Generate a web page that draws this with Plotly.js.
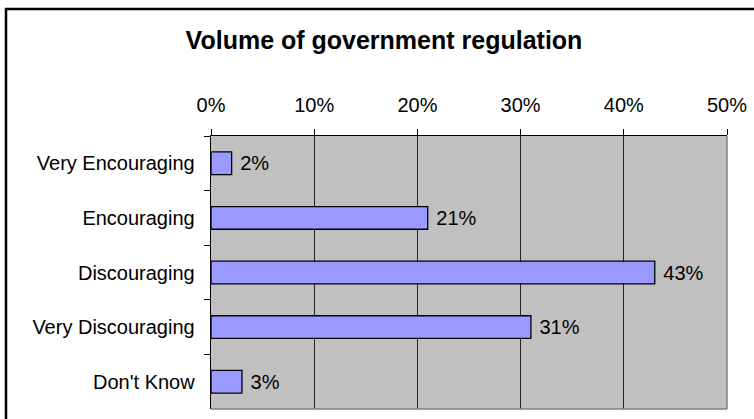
<!DOCTYPE html>
<html>
<head>
<meta charset="utf-8">
<script src="https://cdn.plot.ly/plotly-3.0.1.min.js"></script>
<style>
html,body{margin:0;padding:0;background:#fff;overflow:hidden;}
#chart{width:754px;height:419px;}
</style>
</head>
<body>
<div id="chart"></div>
<script>
const categories = ["Very Encouraging", "Encouraging", "Discouraging", "Very Discouraging", "Don't Know"];
const values = [2, 21, 43, 31, 3];
const valueLabels = ["2%", "21%", "43%", "31%", "3%"];
const xTickVals = [0, 10, 20, 30, 40, 50];
const xTickText = ["0%", "10%", "20%", "30%", "40%", "50%"];
const chartTitle = "Volume of government regulation";

const FONT = "Liberation Sans, Arial, sans-serif";

const trace = {
  type: "bar",
  orientation: "h",
  y: categories,
  x: values,
  text: valueLabels,
  texttemplate: "\u00A0%{text}",
  textposition: "outside",
  cliponaxis: false,
  textfont: {family: FONT, size: 20, color: "#000"},
  marker: {color: "#9999FF", line: {color: "#000", width: 1.3}},
  hoverinfo: "none"
};

const layout = {
  width: 754,
  height: 419,
  margin: {l: 211, r: 27, t: 136, b: 10},
  paper_bgcolor: "#fff",
  plot_bgcolor: "#C0C0C0",
  showlegend: false,
  bargap: 0.585,
  title: {
    text: "<b>" + chartTitle + "</b>",
    font: {family: FONT, size: 25, color: "#000"},
    x: (384 - 211) / 516, xref: "paper", xanchor: "center",
    y: 1 - 40/419, yref: "container", yanchor: "middle"
  },
  xaxis: {
    side: "top",
    range: [0, 50],
    tickvals: xTickVals,
    ticktext: xTickText,
    ticks: "outside",
    ticklen: 6,
    tickcolor: "#000",
    tickwidth: 1,
    ticklabelstandoff: 9,
    showgrid: true,
    gridcolor: "#222",
    gridwidth: 1,
    zeroline: false,
    showline: true,
    linecolor: "#000",
    linewidth: 1.3,
    tickfont: {family: FONT, size: 20, color: "#000"},
    fixedrange: true
  },
  yaxis: {
    type: "category",
    autorange: "reversed",
    ticks: "outside",
    tickson: "boundaries",
    ticklen: 6,
    tickcolor: "#000",
    tickwidth: 1,
    ticklabelstandoff: 11,
    showgrid: false,
    zeroline: false,
    showline: true,
    linecolor: "#000",
    linewidth: 1.3,
    tickfont: {family: FONT, size: 20, color: "#000"},
    fixedrange: true
  },
  shapes: [
    {type: "line", xref: "paper", yref: "paper", x0: 1, x1: 1, y0: 0, y1: 1,
     line: {color: "#808080", width: 1.5}},
    {type: "line", xref: "paper", yref: "paper", x0: 0, x1: 1, y0: 0, y1: 0,
     line: {color: "#808080", width: 1.5}},
    {type: "rect", xref: "paper", yref: "paper",
     x0: (6 - 211) / 516, x1: 1.5, y0: -0.3, y1: 1 + (136 - 9) / 273,
     line: {color: "#000", width: 2.5}, fillcolor: "rgba(0,0,0,0)", layer: "above"}
  ]
};

Plotly.newPlot("chart", [trace], layout, {displayModeBar: false, staticPlot: true});
</script>
</body>
</html>
